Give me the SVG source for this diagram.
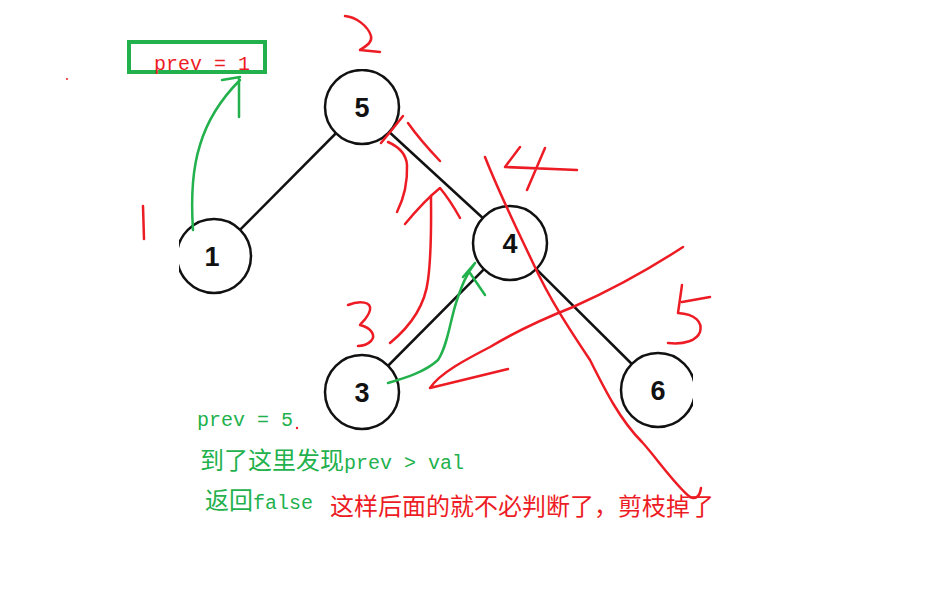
<svg xmlns="http://www.w3.org/2000/svg" width="929" height="615" viewBox="0 0 929 615">
<style>
.edge{stroke:#111;stroke-width:2.5;fill:none}
.node circle{fill:#fff;stroke:#111;stroke-width:2.5}
.node text{font-family:"Liberation Sans",Arial,sans-serif;font-weight:bold;font-size:27px;text-anchor:middle;fill:#111}
.red{stroke:#ed1c24;stroke-width:2.5;fill:none;stroke-linecap:round;stroke-linejoin:round}
.green{stroke:#22b14c;stroke-width:2.5;fill:none;stroke-linecap:round;stroke-linejoin:round}
.mono{font-family:"Liberation Mono","DejaVu Sans Mono",monospace;font-size:20px}
.cjk{font-family:"Noto Sans CJK SC","Noto Sans",sans-serif;font-size:24px}
</style>
<defs>
<clipPath id="treeClip"><rect x="179" y="69" width="514" height="362"/></clipPath>
</defs>
<rect width="929" height="615" fill="#fff"/>
<g clip-path="url(#treeClip)">
<g id="connectors">
<line class="edge" x1="362" y1="107" x2="214" y2="256"/>
<line class="edge" x1="362" y1="107" x2="510" y2="243"/>
<line class="edge" x1="510" y1="243" x2="362" y2="392"/>
<line class="edge" x1="510" y1="243" x2="658" y2="390"/>
</g>
<g id="node-5" class="node"><circle cx="362" cy="107" r="37"/><text x="362" y="117">5</text></g>
<g id="node-1" class="node"><circle cx="214" cy="256" r="37"/><text x="212" y="266">1</text></g>
<g id="node-4" class="node"><circle cx="510" cy="243" r="37"/><text x="510" y="253">4</text></g>
<g id="node-3" class="node"><circle cx="362" cy="392" r="37"/><text x="362" y="402">3</text></g>
<g id="node-6" class="node"><circle cx="658" cy="390" r="37"/><text x="658" y="400">6</text></g>
</g>
<g id="box-prev1">
<rect x="129" y="42" width="136" height="30" fill="none" stroke="#22b14c" stroke-width="4"/>
<text x="154" y="70" class="mono" fill="#ed1c24">prev = 1</text>
</g>
<g id="green-annotations">
<path class="green" d="M193,230 C191,200 192,170 200,145 C208,118 225,95 240,80 M239,79 L239,117 M222,80 L240,77"/>
<path class="green" d="M388,383 C405,378 425,372 438,360 C448,345 450,320 457,300 C462,285 466,275 475,263 M463,277 L475,263 M470,273 L485,295"/>
</g>
<g id="red-annotations">
<path class="red" d="M345,16 C356,17 368,26 371,36 C373,44 362,48 360,50 L380,52"/>
<path class="red" d="M143,206 L144,239"/>
<circle cx="67" cy="79" r="1" fill="#ed1c24"/>
<path class="red" d="M403,116 Q392,130 381,143"/>
<path class="red" d="M408,123 Q420,140 440,161"/>
<path class="red" d="M388,142 Q406,150 407,165 Q408,190 397,212"/>
<path class="red" d="M405,224 Q425,200 440,188 Q450,200 460,218"/>
<path class="red" d="M390,343 C412,325 425,305 428,280 C432,250 431,220 431,196"/>
<path class="red" d="M520,147 L505,167 L577,170 M545,148 L527,190"/>
<path class="red" d="M485,157 C500,195 515,225 533,263 C550,300 570,330 590,360 C605,390 620,420 642,442 C655,456 675,485 690,497 C697,500 700,495 701,488"/>
<path class="red" d="M683,247 C640,275 600,295 573,307 C540,320 510,335 490,347 C465,360 440,373 430,388 L508,369"/>
<path class="red" d="M682,285 L678,313 M682,302 L710,297 M678,313 C695,314 703,322 700,332 C697,340 685,345 668,343"/>
<path class="red" d="M348,305 C360,300 372,302 370,310 C368,318 362,322 360,325 C372,328 376,336 371,341 C366,346 360,346 358,346"/>
<circle cx="297" cy="428" r="1.2" fill="#ed1c24"/>
</g>
<g id="texts">
<text x="197" y="426" class="mono" fill="#22b14c">prev = 5</text>
<text x="200" y="469" fill="#22b14c"><tspan class="cjk">到了这里发现</tspan><tspan class="mono">prev &gt; val</tspan></text>
<text x="205" y="509" fill="#22b14c"><tspan class="cjk">返回</tspan><tspan class="mono">false</tspan></text>
<text x="330" y="515" class="cjk" fill="#ed1c24">这样后面的就不必判断了，剪枝掉了</text>
</g>
</svg>
